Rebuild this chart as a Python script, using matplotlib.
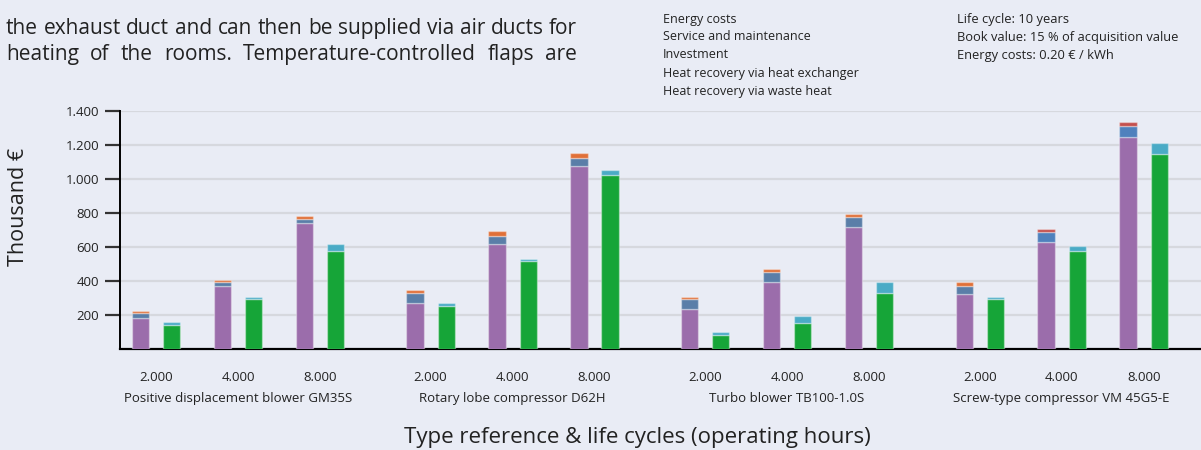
import numpy as np
import matplotlib
matplotlib.use("Agg")
import matplotlib.pyplot as plt
from matplotlib.ticker import FuncFormatter

# data (thousand EUR), one entry per bar pair: 3 life cycles x 4 machines
types = ["Positive displacement blower GM35S", "Rotary lobe compressor D62H",
         "Turbo blower TB100-1.0S", "Screw-type compressor VM 45G5-E"]
hours = ["2.000", "4.000", "8.000"]
energy = [184, 369, 741, 269, 618, 1078, 233, 394, 716, 322, 631, 1249]
service = [26, 23, 24, 62, 49, 47, 61, 61, 60, 47, 59, 65]
investment = [12, 14, 15, 16, 27, 28, 14, 16, 18, 25, 16, 23]
waste_heat = [143, 294, 578, 255, 518, 1025, 82, 155, 331, 294, 578, 1149]
exchanger = [16, 14, 40, 16, 13, 28, 16, 41, 63, 14, 28, 65]

legend_items = ["Energy costs", "Service and maintenance", "Investment",
                "Heat recovery via heat exchanger", "Heat recovery via waste heat"]
notes = ["Life cycle: 10 years", "Book value: 15 % of acquisition value",
         "Energy costs: 0.20 € / kWh"]
intro = ["the exhaust duct and can then be supplied via air ducts for",
         "heating of the rooms. Temperature-controlled flaps are"]

# colours (last machine uses slightly different shades on top)
BG = "#e9ecf5"
PURPLE = "#9b6dab"
GREEN = "#16a538"
CYAN = "#4aabc6"
service_cols = ["#5a7ea8"] * 9 + ["#5a7ea8", "#4f81bd", "#4f81bd"]
invest_cols = ["#e07038"] * 9 + ["#e07038", "#c4504e", "#c4504e"]

FONT = ["Open Sans", "DejaVu Sans"]
plt.rcParams["font.family"] = FONT
TXT = "#222222"

fig = plt.figure(figsize=(12.01, 4.5), dpi=100, facecolor=BG)
W, H = 1201, 450
ax = fig.add_axes([120 / W, (H - 349) / H, (W - 120) / W, (349 - 111) / H])
ax.set_facecolor(BG)

# bar positions: pair spacing 1, group spacing 3.35
n_pairs = len(energy)
centers = np.array([(i // 3) * 3.35 + (i % 3) for i in range(n_pairs)])
off = 0.19
bw = 0.21
xl = centers - off
xr = centers + off

edge = dict(edgecolor=(1, 1, 1, 0.35), linewidth=1)
ax.bar(xl, energy, bw, color=PURPLE, zorder=3, **edge)
b2 = np.array(energy)
ax.bar(xl, service, bw, bottom=b2, color=service_cols, zorder=3, **edge)
b3 = b2 + np.array(service)
ax.bar(xl, investment, bw, bottom=b3, color=invest_cols, zorder=3, **edge)
ax.bar(xr, waste_heat, bw, color=GREEN, zorder=3, **edge)
ax.bar(xr, exchanger, bw, bottom=waste_heat, color=CYAN, zorder=3, **edge)

ax.set_ylim(0, 1400)
ax.set_xlim(-0.44, centers[-1] + 0.70)
ax.set_yticks(np.arange(200, 1401, 200))
ax.yaxis.set_major_formatter(FuncFormatter(lambda v, p: f"{int(v):,}".replace(",", ".")))
ax.grid(axis="y", color="#d6d8de", linewidth=1.6, zorder=0)
ax.set_axisbelow(True)

ax.set_xticks(centers)
ax.set_xticklabels(hours * 4)
ax.tick_params(axis="x", length=0, pad=16, labelsize=9.5, labelcolor=TXT)
ax.tick_params(axis="y", length=11, width=1.6, color="#333333", direction="out",
               labelsize=9.5, labelcolor=TXT, pad=4)
for s in ["top", "right"]:
    ax.spines[s].set_visible(False)
ax.spines["left"].set_linewidth(1.4)
ax.spines["bottom"].set_linewidth(1.6)
ax.spines["left"].set_color("black")
ax.spines["bottom"].set_color("black")

for g, name in enumerate(types):
    ax.text(centers[g * 3 + 1], -0.206, name, transform=ax.get_xaxis_transform(),
            ha="center", va="center", fontsize=9.5, color=TXT)

fig.text(0.5 * (405 + 870) / W, 1 - 438 / H,
         "Type reference & life cycles (operating hours)",
         ha="center", va="center", fontsize=16, color=TXT)
fig.text(19 / W, 1 - 207 / H, "Thousand €", rotation=90,
         ha="center", va="center", fontsize=15.5, color=TXT)

# legend / notes as plain text lines
for i, t in enumerate(legend_items):
    fig.text(663 / W, 1 - (19 + 18 * i) / H, t, ha="left", va="center",
             fontsize=9, color=TXT)
for i, t in enumerate(notes):
    fig.text(957 / W, 1 - (19 + 18 * i) / H, t, ha="left", va="center",
             fontsize=9.3, color=TXT)

# justified intro text (words spread between x=6 and x=577 px)
renderer = fig.canvas.get_renderer()
for li, line in enumerate(intro):
    yb = 1 - (34 + 26 * li) / H
    words = line.split()
    arts = [fig.text(0, yb, w, ha="left", va="baseline", fontsize=15, color=TXT)
            for w in words]
    widths = [a.get_window_extent(renderer).width for a in arts]
    gap = (577 - 6 - sum(widths)) / (len(words) - 1)
    x = 6.0
    for a, wd in zip(arts, widths):
        a.set_x(x / W)
        x += wd + gap

fig.savefig("out.png", dpi=100, facecolor=BG)
